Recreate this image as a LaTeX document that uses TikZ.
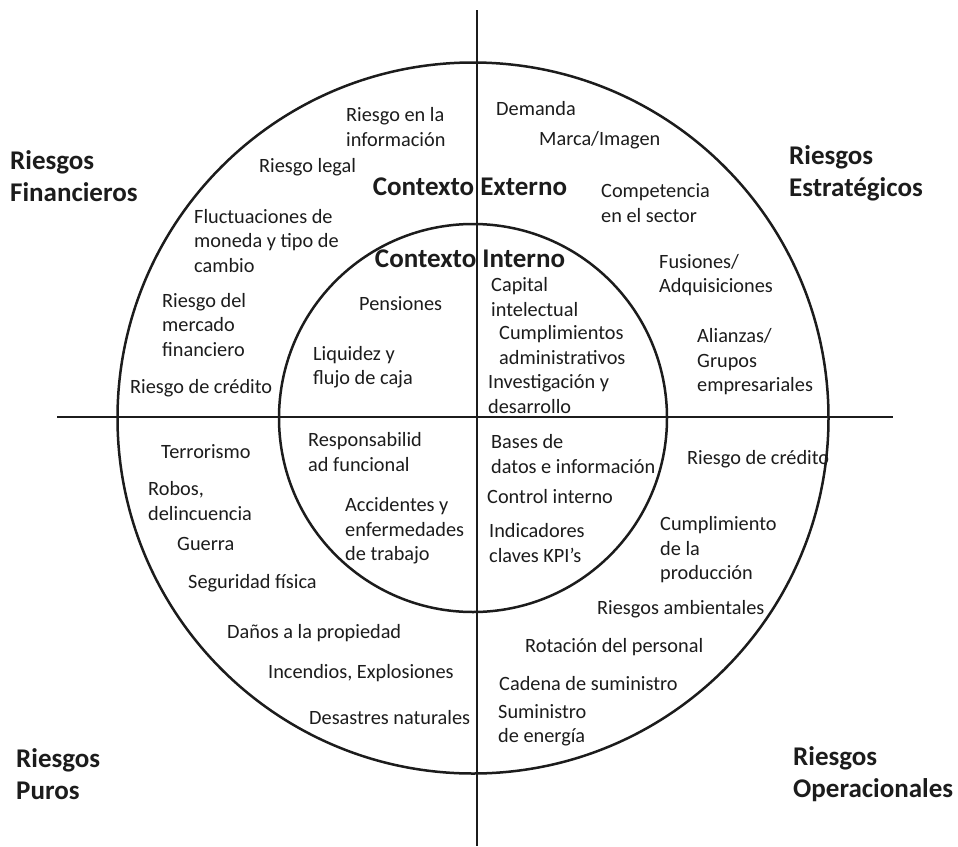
\documentclass[tikz,border=0pt]{standalone}
\usepackage{fontspec}
\setmainfont{Carlito}
\definecolor{ink}{RGB}{28,28,28}
\begin{document}
\begin{tikzpicture}[x=1pt,y=-1pt,
  ring/.style={line width=2.5pt, draw=ink},
  axis/.style={line width=2.5pt, draw=ink},
  item/.style={inner sep=0pt, anchor=west, align=left, text=ink,
    font=\fontsize{20.3}{24.5}\selectfont},
  head/.style={inner sep=0pt, anchor=west, align=left, text=ink,
    font=\fontsize{27}{32}\selectfont\bfseries}]
\useasboundingbox[fill=white] (0,0) rectangle (958,846);

% concentric rings and axes
\draw[ring] (473,418) circle (355.5);
\draw[ring] (473,418) circle (194);
\coordinate (vtop) at (477,10);
\coordinate (vbot) at (477,846);
\coordinate (hleft) at (57,417);
\coordinate (hright) at (893,417);
\draw[axis] (vtop) -- (vbot);
\draw[axis] (hleft) -- (hright);

% quadrant headings
\node[head] (fin) at (10,176) {Riesgos\\Financieros};
\node[head] (est) at (789,173) {Riesgos\\Estratégicos};
\node[head] (pur) at (16,774) {Riesgos\\Puros};
\node[head] (ope) at (793,774) {Riesgos\\Operacionales};

% ring titles
\node[head, anchor=center] (ext) at (470,187) {Contexto Externo};
\node[head, anchor=center] (int) at (470,259) {Contexto Interno};

% financial risks
\node[item] (f1) at (346,127) {Riesgo en la\\información};
\node[item] (f2) at (259,167) {Riesgo legal};
\node[item] (f3) at (194,241) {Fluctuaciones de\\moneda y tipo de\\cambio};
\node[item] (f4) at (162,325) {Riesgo del\\mercado\\financiero};
\node[item] (f5) at (130,388) {Riesgo de crédito};
\node[item] (f6) at (359,304) {Pensiones};
\node[item] (f7) at (313,367) {Liquidez y\\flujo de caja};

% strategic risks
\node[item] (s1) at (496,109) {Demanda};
\node[item] (s2) at (539,140) {Marca/Imagen};
\node[item] (s3) at (601,203) {Competencia\\en el sector};
\node[item] (s4) at (659,275) {Fusiones/\\Adquisiciones};
\node[item] (s5) at (697,362) {Alianzas/\\Grupos\\empresariales};
\node[item] (s6) at (491,297) {Capital\\intelectual};
\node[item] (s7) at (499,345) {Cumplimientos\\administrativos};
\node[item] (s8) at (488,394) {Investigación y\\desarrollo};

% pure risks
\node[item] (p1) at (161,452) {Terrorismo};
\node[item] (p2) at (148,501) {Robos,\\delincuencia};
\node[item] (p3) at (177,544) {Guerra};
\node[item] (p4) at (188,583) {Seguridad física};
\node[item] (p5) at (227,633) {Daños a la propiedad};
\node[item] (p6) at (268,673) {Incendios, Explosiones};
\node[item] (p7) at (309,718) {Desastres naturales};
\node[item] (p8) at (308,452) {Responsabilid\\ad funcional};
\node[item] (p9) at (345,531) {Accidentes y\\enfermedades\\de trabajo};

% operational risks
\node[item] (o1) at (491,454) {Bases de\\datos e información};
\node[item] (o2) at (487,497) {Control interno};
\node[item] (o3) at (489,543) {Indicadores\\claves KPI’s};
\node[item] (o4) at (687,459) {Riesgo de crédito};
\node[item] (o5) at (660,550) {Cumplimiento\\de la\\producción};
\node[item] (o6) at (597,609) {Riesgos ambientales};
\node[item] (o7) at (525,647) {Rotación del personal};
\node[item] (o8) at (499,684) {Cadena de suministro};
\node[item] (o9) at (498,725) {Suministro\\de energía};
\end{tikzpicture}
\end{document}
